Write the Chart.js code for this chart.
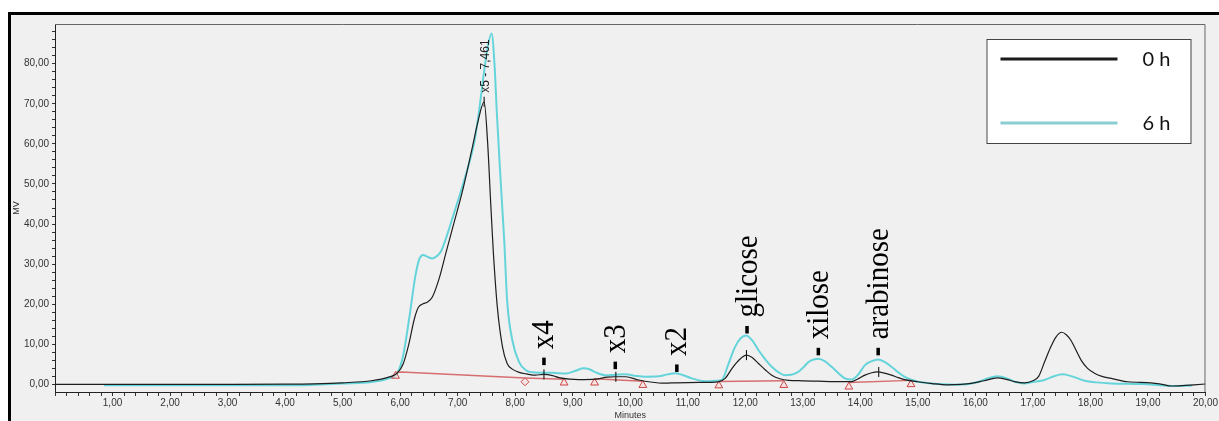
<!DOCTYPE html>
<html>
<head>
<meta charset="utf-8">
<script src="https://cdn.jsdelivr.net/npm/chart.js@4.4.1/dist/chart.umd.min.js"></script>
<style>
  body { margin: 0; background: #fff; }
  #frame {
    position: absolute; left: 8px; top: 12px; width: 1211px; height: 409px;
    border-top: 3px solid #000; border-left: 3px solid #000; box-sizing: border-box;
    background: #f0f0f0;
  }
</style>
</head>
<body>
<div id="frame"><canvas id="chromChart"></canvas></div>
<script>
// Chromatogram data (minutes, mV)
const times0h = [0.0, 1.0, 2.0, 3.0, 4.0, 4.5, 5.0, 5.5, 5.8, 5.95, 6.05, 6.15, 6.25, 6.32, 6.40, 6.47, 6.56, 6.68, 6.79, 6.93,
  7.08, 7.25, 7.36, 7.46, 7.52, 7.575, 7.62, 7.69, 7.78, 7.86, 7.95, 8.07, 8.2, 8.35, 8.5, 8.65, 8.76, 8.95, 9.1, 9.4,
  9.6, 9.75, 9.92, 10.15, 10.35, 10.6, 10.8, 11.2, 11.53, 11.65, 11.77, 11.9, 12.02, 12.12, 12.23, 12.35, 12.46, 12.6, 12.75, 13.0,
  13.27, 13.55, 13.85, 13.95, 14.08, 14.2, 14.3, 14.42, 14.54, 14.66, 14.77, 15.0, 15.25, 15.5, 15.75, 15.93, 16.15, 16.38, 16.55, 16.68,
  16.85, 17.0, 17.1, 17.2, 17.3, 17.4, 17.5, 17.58, 17.66, 17.75, 17.84, 17.95, 18.07, 18.2, 18.36, 18.65, 19.05, 19.25, 19.4, 19.6,
  19.8, 20.0];
const signal0h = [0.0, 0.0, 0.0, 0.0, 0.05, 0.15, 0.4, 0.9, 1.8, 2.8, 5.0, 10.0, 16.5, 19.3, 20.1, 20.5, 21.8, 26.5, 32.5, 40.0,
  48.0, 58.8, 66.0, 70.5, 60.5, 45.0, 33.0, 19.2, 9.3, 5.2, 3.8, 3.0, 2.6, 2.3, 2.5, 2.2, 1.7, 1.3, 1.2, 1.3,
  1.8, 1.9, 1.9, 1.1, 0.6, 0.3, 0.4, 0.5, 0.65, 1.5, 4.0, 6.2, 7.3, 6.7, 5.2, 3.6, 2.3, 1.4, 1.0, 0.9,
  0.8, 0.7, 0.7, 1.3, 2.3, 2.9, 3.1, 2.8, 2.3, 1.7, 1.2, 0.65, 0.2, -0.1, 0.0, 0.25, 0.9, 1.6, 1.2, 0.7,
  0.4, 0.9, 2.0, 5.5, 9.0, 11.8, 13.0, 12.4, 11.0, 8.5, 6.0, 4.0, 2.8, 2.0, 1.5, 0.65, 0.4, 0.0, -0.4, -0.3,
  -0.1, 0.1];

const times6h = [0.85, 2.0, 3.0, 4.25, 4.5, 5.0, 5.5, 5.8, 5.95, 6.05, 6.16, 6.27, 6.34, 6.40, 6.48, 6.56, 6.64, 6.71, 6.81, 6.91,
  7.02, 7.14, 7.29, 7.37, 7.45, 7.52, 7.59, 7.64, 7.68, 7.73, 7.78, 7.81, 7.86, 7.95, 8.07, 8.18, 8.3, 8.41, 8.64, 8.88,
  9.05, 9.19, 9.3, 9.4, 9.57, 9.75, 9.92, 10.1, 10.26, 10.49, 10.65, 10.78, 10.9, 11.07, 11.3, 11.5, 11.59, 11.71, 11.82, 11.92,
  12.01, 12.12, 12.23, 12.35, 12.46, 12.58, 12.69, 12.8, 12.92, 13.02, 13.1, 13.19, 13.27, 13.38, 13.5, 13.62, 13.73, 13.85, 13.96, 14.08,
  14.2, 14.31, 14.42, 14.54, 14.66, 14.77, 14.9, 15.0, 15.35, 15.7, 16.0, 16.2, 16.38, 16.55, 16.7, 16.85, 17.0, 17.2, 17.38, 17.52,
  17.68, 17.9, 18.1, 18.36, 18.93, 19.2, 19.4, 19.77];
const signal6h = [-0.2, -0.2, -0.2, -0.2, -0.1, 0.2, 0.6, 1.5, 2.8, 7.0, 16.7, 27.5, 31.5, 32.3, 31.8, 31.4, 32.0, 33.2, 37.0, 41.5,
  46.5, 52.2, 60.5, 68.0, 77.0, 84.0, 87.5, 80.0, 68.0, 55.0, 43.0, 35.7, 20.9, 11.0, 5.5, 3.6, 3.0, 2.9, 2.9, 2.7,
  3.4, 4.0, 3.7, 3.0, 2.3, 2.4, 2.5, 2.1, 1.9, 2.0, 2.5, 2.8, 2.4, 1.5, 0.8, 0.9, 1.1, 5.2, 9.3, 11.5,
  12.2, 11.0, 8.5, 6.2, 4.4, 3.0, 2.3, 2.4, 3.1, 4.4, 5.6, 6.2, 6.4, 5.8, 4.4, 2.8, 1.5, 1.2, 2.4, 4.8,
  5.8, 6.2, 5.6, 4.4, 3.0, 1.9, 1.1, 0.65, 0.1, -0.1, 0.4, 1.4, 2.0, 1.5, 0.6, 0.25, 0.6, 1.1, 2.1, 2.5,
  2.0, 0.9, 0.5, 0.25, 0.1, -0.2, -0.4, -0.3];

// integration baselines (null = gap between segments)
const baseTimes = [5.93, 6.02, 8.17, 8.85, 8.9, 9.38, 10.22, 10.3, 11.54, 12.67, 12.7, 13.80, 14.88];
const baseValues = [3.0, 3.1, 1.6, 1.3, null, 1.4, 0.8, null, 0.7, 0.9, null, 0.5, 1.0];

// integration markers
const triangleTimes = [5.92, 8.85, 9.38, 10.22, 11.54, 12.67, 13.80, 14.88];
const triangleValues = [2.1, 0.4, 0.4, -0.2, -0.3, -0.2, -0.6, 0.0];
const diamondTimes = [8.17];
const diamondValues = [0.65];

// peak apex marks on the 0 h trace
const apexTimes = [7.46, 8.50, 9.75, 12.02, 14.32];
const apexValues = [70.5, 2.5, 1.9, 7.3, 3.1];

// named peaks
const peakNames = ['x4', 'x3', 'x2', 'glicose', 'xilose', 'arabinose'];
const peakTimes = [8.50, 9.74, 10.81, 12.03, 13.27, 14.31];
const peakLabelLevels = [4.8, 3.8, 3.1, 12.7, 7.25, 7.25];

const mainPeakLabel = 'x5 - 7,461';
const mainPeakTime = 7.461;
const mainPeakValue = 70.5;

const seriesLabels = ['0 h', '6 h'];
const xTitle = 'Minutes';
const yTitle = 'MV';

function pts(xs, ys) {
    return xs.map((x, i) => ({ x: x, y: ys[i] }));
}
function fmt(v) {
    return v.toFixed(2).replace('.', ',');
}

// peak names, frame and legend drawn through the scales
const overlayPlugin = {
    id: 'overlay',
    afterDatasetsDraw(chart) {
        const ctx = chart.ctx;
        const xs = chart.scales.x, ys = chart.scales.y;
        const area = chart.chartArea;
        ctx.save();

        // frame top/right
        ctx.strokeStyle = '#666';
        ctx.lineWidth = 1;
        ctx.beginPath();
        ctx.moveTo(area.left, area.top + 0.5);
        ctx.lineTo(area.right - 0.5, area.top + 0.5);
        ctx.lineTo(area.right - 0.5, area.bottom);
        ctx.stroke();

        // named peaks
        ctx.fillStyle = '#000';
        ctx.font = '29px "Liberation Serif", "Times New Roman", serif';
        ctx.textAlign = 'left';
        ctx.textBaseline = 'middle';
        peakNames.forEach((name, i) => {
            const px = xs.getPixelForValue(peakTimes[i]);
            const py = ys.getPixelForValue(peakLabelLevels[i]);
            ctx.fillRect(px - 1.75, py - 7.5, 3.5, 7.5);
            ctx.save();
            ctx.translate(px + 1, py - 16);
            ctx.rotate(-Math.PI / 2);
            ctx.scale(1, 1.12);
            ctx.fillText(name, 0, 0);
            ctx.restore();
        });

        // main peak label
        ctx.fillStyle = '#222';
        ctx.font = '12px "Liberation Sans", Arial, sans-serif';
        const mx = xs.getPixelForValue(mainPeakTime);
        const my = ys.getPixelForValue(mainPeakValue);
        ctx.save();
        ctx.translate(mx + 1.5, my - 9);
        ctx.rotate(-Math.PI / 2);
        ctx.fillText(mainPeakLabel, 0, 0);
        ctx.restore();

        // legend box
        const bw = 204, bh = 104;
        const bx = area.right - 15 - bw, by = area.top + 15;
        ctx.fillStyle = '#fff';
        ctx.fillRect(bx, by, bw, bh);
        ctx.strokeStyle = '#444';
        ctx.lineWidth = 1;
        ctx.strokeRect(bx + 0.5, by + 0.5, bw, bh);
        ctx.font = '20px Lato, "Noto Sans", sans-serif';
        ctx.textBaseline = 'middle';
        const rows = [by + 20, by + 84];
        const legendColors = ['#1a1a1a', 'rgb(140,205,210)'];
        seriesLabels.forEach((label, k) => {
            ctx.strokeStyle = legendColors[k];
            ctx.lineWidth = 3;
            ctx.beginPath();
            ctx.moveTo(bx + 14, rows[k]);
            ctx.lineTo(bx + 131, rows[k]);
            ctx.stroke();
            ctx.fillStyle = '#111';
            ctx.fillText(label, bx + 156, rows[k] + 1);
        });
        ctx.restore();
    }
};

const ctx = document.getElementById('chromChart').getContext('2d');
const chromChart = new Chart(ctx, {
    type: 'line',
    data: {
        datasets: [{
            label: seriesLabels[0],
            data: pts(times0h, signal0h),
            borderColor: '#1e1e1e',
            borderWidth: 1.2,
            pointRadius: 0,
            cubicInterpolationMode: 'monotone'
        }, {
            label: 'apex',
            data: pts(apexTimes, apexValues),
            showLine: false,
            pointStyle: 'line',
            rotation: 90,
            pointRadius: 5,
            borderColor: '#000',
            borderWidth: 1
        }, {
            label: 'baseline',
            data: pts(baseTimes, baseValues),
            borderColor: 'rgb(215,110,110)',
            borderWidth: 1.5,
            pointRadius: 0,
            spanGaps: false
        }, {
            label: 'triangles',
            data: pts(triangleTimes, triangleValues),
            showLine: false,
            pointStyle: 'triangle',
            pointRadius: 4.5,
            borderColor: 'rgb(205,70,70)',
            backgroundColor: 'rgba(250,220,220,0.6)',
            borderWidth: 1
        }, {
            label: 'diamond',
            data: pts(diamondTimes, diamondValues),
            showLine: false,
            pointStyle: 'rectRot',
            pointRadius: 4,
            borderColor: 'rgb(205,70,70)',
            backgroundColor: 'rgba(250,220,220,0.6)',
            borderWidth: 1
        }, {
            label: seriesLabels[1],
            data: pts(times6h, signal6h),
            borderColor: 'rgb(100,212,218)',
            borderWidth: 2,
            pointRadius: 0,
            cubicInterpolationMode: 'monotone'
        }]
    },
    options: {
        responsive: true,
        maintainAspectRatio: false,
        animation: false,
        events: [],
        layout: { padding: { top: 6, right: 12, left: 0, bottom: 0 } },
        plugins: {
            legend: { display: false },
            tooltip: { enabled: false }
        },
        scales: {
            x: {
                type: 'linear',
                min: 0,
                max: 20,
                afterFit: (scale) => { scale.height = 29; },
                border: { display: true, color: '#222', width: 1 },
                grid: { drawOnChartArea: false, tickLength: 4, tickColor: '#333' },
                ticks: {
                    stepSize: 0.2,
                    autoSkip: false,
                    maxRotation: 0,
                    minRotation: 0,
                    padding: 1,
                    color: '#333',
                    font: { family: '"Liberation Sans", Arial, sans-serif', size: 10 },
                    callback: (v) => (v > 0 && Math.abs(v - Math.round(v)) < 1e-6) ? fmt(v) : ''
                },
                title: {
                    display: true,
                    text: xTitle,
                    color: '#333',
                    padding: 0,
                    font: { family: '"Liberation Sans", Arial, sans-serif', size: 9 }
                }
            },
            y: {
                min: -1.9,
                max: 89.9,
                afterFit: (scale) => { scale.width = 44; },
                border: { display: true, color: '#222', width: 1 },
                grid: { drawOnChartArea: false, tickLength: 3, tickColor: '#333' },
                ticks: {
                    stepSize: 2,
                    includeBounds: false,
                    autoSkip: false,
                    padding: 3,
                    color: '#333',
                    font: { family: '"Liberation Sans", Arial, sans-serif', size: 10 },
                    callback: (v) => Math.abs(v % 10) < 1e-6 ? fmt(v) : ''
                },
                title: {
                    display: true,
                    text: yTitle,
                    color: '#333',
                    padding: 0,
                    font: { family: '"Liberation Sans", Arial, sans-serif', size: 9 }
                }
            }
        }
    },
    plugins: [overlayPlugin]
});
</script>
</body>
</html>
